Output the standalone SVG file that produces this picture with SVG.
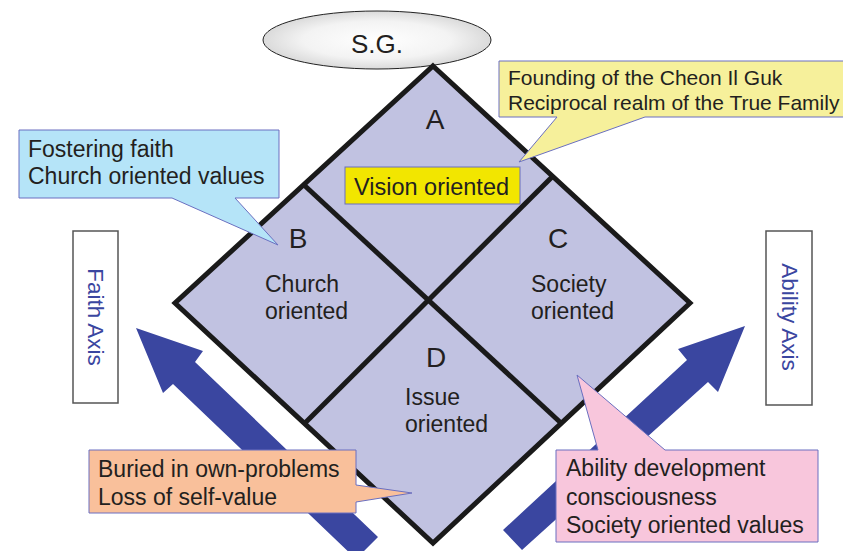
<svg xmlns="http://www.w3.org/2000/svg" width="843" height="551" viewBox="0 0 843 551">
<style>
text{font-family:"Liberation Sans",Arial,sans-serif;fill:#231f20}
.big{font-size:23px}
.call{font-size:23px}
.yel{font-size:21px}
.let{font-size:28px;text-anchor:middle}
.axis{font-size:22.5px;fill:#3a46a0;text-anchor:middle;dominant-baseline:central}
.cbox{stroke:#6a6fc0;stroke-width:1}
.abox{fill:#fff;stroke:#555;stroke-width:1.5}
.arrow{fill:#3a46a0}
.edge{stroke:#1a1a1a;stroke-width:5;fill:none;stroke-linecap:butt}
</style>
<defs>
<radialGradient id="sg" cx="50%" cy="50%" r="50%">
<stop offset="0" stop-color="#ffffff"/>
<stop offset="0.65" stop-color="#f3f3f3"/>
<stop offset="1" stop-color="#dadada"/>
</radialGradient>
</defs>
<rect width="843" height="551" fill="#fff"/>
<g id="connectors">
<polygon class="arrow" points="136,328 203,351 195,362 378,537 356,559 173,384 163,393"/>
<polygon class="arrow" points="745,326 718,392 708,382 522,550 503,530 687,360 678,349"/>
</g>
<g id="sg-node">
<ellipse cx="377" cy="40" rx="114" ry="29" fill="url(#sg)" stroke="#222" stroke-width="1"/>
<text x="377" y="53" font-size="26" text-anchor="middle">S.G.</text>
</g>
<g id="diamond">
<polygon points="433,66 690,303 433,543 175,303" fill="#c1c2e1" stroke="#1a1a1a" stroke-width="5" stroke-linejoin="miter"/>
<line class="edge" x1="304" y1="185" x2="561" y2="423"/>
<line class="edge" x1="553" y1="176" x2="304" y2="424"/>
</g>
<g id="node-A">
<text class="let" x="435" y="129">A</text>
</g>
<g id="node-vision">
<rect x="345" y="167" width="175" height="37" fill="#f2e600" stroke="#6a6fc0" stroke-width="1"/>
<text x="354" y="195" font-size="23.5">Vision oriented</text>
</g>
<g id="node-B">
<text class="let" x="298" y="248">B</text>
<text class="big" x="265" y="292">Church</text>
<text class="big" x="265" y="319">oriented</text>
</g>
<g id="node-C">
<text class="let" x="558" y="248">C</text>
<text class="big" x="531" y="292">Society</text>
<text class="big" x="531" y="319">oriented</text>
</g>
<g id="node-D">
<text class="let" x="436" y="367">D</text>
<text class="big" x="405" y="405">Issue</text>
<text class="big" x="405" y="432">oriented</text>
</g>
<g id="faith-axis">
<rect class="abox" x="73" y="231" width="45" height="172"/>
<text class="axis" transform="translate(95.5,317) rotate(90)">Faith Axis</text>
</g>
<g id="ability-axis">
<rect class="abox" x="766" y="231" width="46" height="174"/>
<text class="axis" transform="translate(789,317) rotate(90)">Ability Axis</text>
</g>
<g id="callout-yellow">
<path class="cbox" fill="#f6f09b" d="M499,61 H846 V117 H645 L519,162 L557,117 H499 Z"/>
<text class="yel" x="508" y="85">Founding of the Cheon Il Guk</text>
<text class="yel" x="508" y="110">Reciprocal realm of the True Family</text>
</g>
<g id="callout-blue">
<path class="cbox" fill="#b5e4f8" d="M19,130 H279 V198 H235 L278,245 L172,198 H19 Z"/>
<text class="call" x="28" y="157">Fostering faith</text>
<text class="call" x="28" y="184">Church oriented values</text>
</g>
<g id="callout-orange">
<path class="cbox" fill="#f9c09b" d="M89,450 H356 V485 L412,493 L356,502 V513 H89 Z"/>
<text class="call" x="98" y="477">Buried in own-problems</text>
<text class="call" x="98" y="505">Loss of self-value</text>
</g>
<g id="callout-pink">
<path class="cbox" fill="#f8c6dc" d="M556,450 H598 L577,375 L665,450 H818 V542 H556 Z"/>
<text class="call" x="566" y="476">Ability development</text>
<text class="call" x="566" y="505">consciousness</text>
<text class="call" x="566" y="533">Society oriented values</text>
</g>
</svg>
